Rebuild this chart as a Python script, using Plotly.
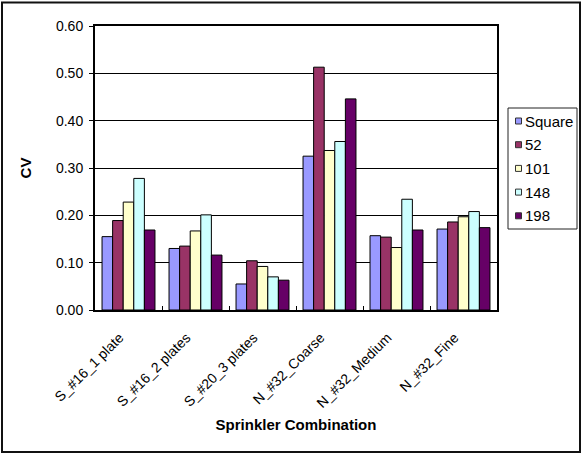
import plotly.graph_objects as go

# Sprinkler combinations on the category axis
categories = ["S_#16_1 plate", "S_#16_2 plates", "S_#20_3 plates",
              "N_#32_Coarse", "N_#32_Medium", "N_#32_Fine"]

# Coefficient of variation for each spacing series
series_names = ["Square", "52", "101", "148", "198"]
cv_square = [0.155, 0.130, 0.055, 0.325, 0.157, 0.171]
cv_52 = [0.189, 0.135, 0.104, 0.513, 0.154, 0.186]
cv_101 = [0.228, 0.167, 0.092, 0.337, 0.132, 0.197]
cv_148 = [0.278, 0.201, 0.070, 0.356, 0.234, 0.208]
cv_198 = [0.169, 0.116, 0.063, 0.446, 0.169, 0.174]
series_values = [cv_square, cv_52, cv_101, cv_148, cv_198]

y_ticks = [0.0, 0.1, 0.2, 0.3, 0.4, 0.5, 0.6]

colors = ["#9999FF", "#993366", "#FFFFCC", "#CCFFFF", "#660066"]
FONT = "Liberation Sans, Arial, sans-serif"

W, H = 582, 454
ML, MR, MT, MB = 95, 85, 26, 144
PW, PH = W - ML - MR, H - MT - MB


def px_x(x):
    return (x - ML) / PW


def px_y(y):
    return (H - MB - y) / PH


fig = go.Figure()
for name, vals, col in zip(series_names, series_values, colors):
    fig.add_trace(go.Bar(
        name=name, x=categories, y=vals,
        marker=dict(color=col, line=dict(color="#000000", width=1)),
        showlegend=False,
    ))

shapes = []
annotations = []

# outer chart frame
shapes.append(dict(type="rect", xref="paper", yref="paper",
                   x0=px_x(2), x1=px_x(580), y0=px_y(452), y1=px_y(2.5),
                   line=dict(color="#111111", width=2), layer="below"))

# legend box with swatches
lx0, lx1, ly0, ly1 = 508, 577, 108, 229
shapes.append(dict(type="rect", xref="paper", yref="paper",
                   x0=px_x(lx0), x1=px_x(lx1), y0=px_y(ly1), y1=px_y(ly0),
                   line=dict(color="#222222", width=1), fillcolor="white"))
row_y0, row_step = 121, 23.7
for i, (name, col) in enumerate(zip(series_names, colors)):
    cy = row_y0 + i * row_step
    shapes.append(dict(type="rect", xref="paper", yref="paper",
                       x0=px_x(515.5), x1=px_x(521.5),
                       y0=px_y(cy + 3), y1=px_y(cy - 3),
                       line=dict(color="#333333", width=1), fillcolor=col))
    annotations.append(dict(x=px_x(523), y=px_y(cy), xref="paper", yref="paper",
                            text=name, showarrow=False, xanchor="left",
                            yanchor="middle",
                            font=dict(family=FONT, size=15, color="#000000")))

fig.update_layout(
    width=W, height=H,
    margin=dict(l=ML, r=MR, t=MT, b=MB, pad=0),
    paper_bgcolor="white", plot_bgcolor="white",
    barmode="group", bargap=0.21, bargroupgap=0,
    font=dict(family=FONT, size=14, color="#000000"),
    shapes=shapes, annotations=annotations,
    xaxis=dict(
        type="category", tickangle=-45,
        tickfont=dict(family=FONT, size=14),
        showline=True, linecolor="#000000", linewidth=2, mirror=True,
        ticks="inside", tickson="boundaries", ticklen=4, tickcolor="#000000",
        ticklabelstandoff=12, ticklabelshift=-9,
        showgrid=False,
        title=dict(text="<b>Sprinkler Combination</b>",
                   font=dict(family=FONT, size=15), standoff=10),
    ),
    yaxis=dict(
        range=[0, 0.6], tickvals=y_ticks, tickformat=".2f",
        tickfont=dict(family=FONT, size=14),
        showline=True, linecolor="#000000", linewidth=2, mirror=True,
        ticks="outside", ticklen=4, tickcolor="#000000",
        ticklabelstandoff=3,
        showgrid=True, gridcolor="#000000", gridwidth=1,
        zeroline=False,
        title=dict(text="<b>CV</b>", font=dict(family=FONT, size=15),
                   standoff=21),
    ),
)

fig.write_html("out.html")
